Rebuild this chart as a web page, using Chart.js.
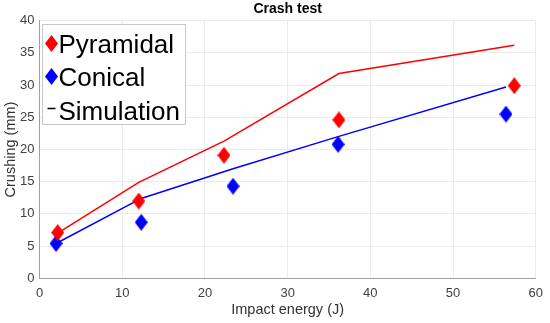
<!DOCTYPE html>
<html><head><meta charset="utf-8">
<script src="https://cdn.jsdelivr.net/npm/chart.js@4"></script>
<style>html,body{margin:0;padding:0;background:#fff}#wrap{width:550px;height:323px}</style>
</head><body><div id="wrap"><canvas id="c" width="550" height="323"></canvas></div>
<script>
// ---- data ----
const titleText = 'Crash test';
const xAxisLabel = 'Impact energy (J)';
const yAxisLabel = 'Crushing (mm)';
const legendLabels = ['Pyramidal', 'Conical', 'Simulation'];

const energyPyramidal = [2.2, 12.0, 22.3, 36.2, 57.4];
const crushPyramidal  = [7.1, 12.0, 19.1, 24.6, 29.9];
const energyConical   = [2.0, 12.3, 23.4, 36.1, 56.4];
const crushConical    = [5.4, 8.7, 14.3, 20.8, 25.5];

const simEnergyPyramidal = [2.2, 12.0, 22.3, 36.2, 57.4];
const simCrushPyramidal  = [7.0, 14.9, 21.3, 31.8, 36.2];
const simEnergyConical   = [2.0, 12.3, 23.4, 36.1, 56.4];
const simCrushConical    = [5.4, 12.4, 17.0, 22.0, 29.7];

const xTicks = [0, 10, 20, 30, 40, 50, 60];
const yTicks = [0, 5, 10, 15, 20, 25, 30, 35, 40];

// ---- helpers ----
const FONT = "'Liberation Sans', Arial, Helvetica, sans-serif";
const RED = '#ff0000', BLUE = '#0000ff';
function pts(xs, ys) { return xs.map((x, i) => ({x: x, y: ys[i]})); }
function makeDiamond(color, w, h) {
  const c = document.createElement('canvas');
  c.width = w; c.height = h;
  const g = c.getContext('2d');
  g.fillStyle = color;
  g.beginPath();
  g.moveTo(w / 2, 0); g.lineTo(w, h / 2); g.lineTo(w / 2, h); g.lineTo(0, h / 2);
  g.closePath(); g.fill();
  return c;
}
const redDiamond = makeDiamond(RED, 13, 17);
const blueDiamond = makeDiamond(BLUE, 13, 17);

const legendPlugin = {
  id: 'insideLegend',
  afterDraw(chart) {
    const ctx = chart.ctx, ca = chart.chartArea;
    const bx = Math.round(ca.left + 2) + 0.5, by = Math.round(ca.top + 3) + 0.5;
    const bw = 143, bh = 100;
    ctx.save();
    ctx.fillStyle = '#ffffff';
    ctx.fillRect(bx, by, bw, bh);
    ctx.strokeStyle = '#c8c8c8';
    ctx.lineWidth = 1;
    ctx.strokeRect(bx, by, bw, bh);
    ctx.font = '26px ' + FONT;
    ctx.fillStyle = '#000';
    ctx.textBaseline = 'alphabetic';
    ctx.textAlign = 'left';
    const textX = bx + 16;
    const baselines = [by + 28, by + 61, by + 95];
    const markers = [redDiamond, blueDiamond, null];
    legendLabels.forEach((lab, i) => {
      const mx = bx + 9, my = baselines[i] - 9;
      if (markers[i]) {
        ctx.drawImage(markers[i], mx - 6.5, my - 8.5);
      } else {
        ctx.strokeStyle = '#000';
        ctx.lineWidth = 1.5;
        ctx.beginPath();
        ctx.moveTo(mx - 4, my - 2); ctx.lineTo(mx + 4, my - 2);
        ctx.stroke();
      }
      ctx.fillText(lab, textX, baselines[i]);
    });
    ctx.restore();
  }
};

new Chart(document.getElementById('c'), {
  type: 'scatter',
  data: {
    datasets: [
      { label: legendLabels[0], data: pts(energyPyramidal, crushPyramidal),
        pointStyle: redDiamond, pointRadius: 8, backgroundColor: RED, borderColor: RED, showLine: false },
      { label: legendLabels[1], data: pts(energyConical, crushConical),
        pointStyle: blueDiamond, pointRadius: 8, backgroundColor: BLUE, borderColor: BLUE, showLine: false },
      { label: legendLabels[2] + ' (pyramidal)', data: pts(simEnergyPyramidal, simCrushPyramidal),
        showLine: true, borderColor: RED, borderWidth: 1.5, pointRadius: 0, fill: false, tension: 0 },
      { label: legendLabels[2] + ' (conical)', data: pts(simEnergyConical, simCrushConical),
        showLine: true, borderColor: BLUE, borderWidth: 1.5, pointRadius: 0, fill: false, tension: 0 }
    ]
  },
  options: {
    responsive: false,
    animation: false,
    devicePixelRatio: 1,
    layout: { padding: { left: 0, right: 13, top: 0, bottom: 0 } },
    plugins: {
      legend: { display: false },
      tooltip: { enabled: false },
      title: {
        display: true, text: titleText, fullSize: false, color: '#000',
        font: { family: FONT, size: 14, weight: 'bold' },
        padding: { top: 0.9, bottom: 3.0 }
      }
    },
    scales: {
      x: {
        type: 'linear', position: 'bottom', min: 0, max: 60,
        afterBuildTicks: s => { s.ticks = xTicks.map(v => ({value: v})); },
        afterFit: s => { s.height = 44.7; },
        ticks: { color: '#404040', font: { family: FONT, size: 13 }, padding: 7 },
        grid: { color: '#ebebeb', drawTicks: false },
        border: { color: '#a0a0a0', width: 1 },
        title: { display: true, text: xAxisLabel, color: '#333333',
                 font: { family: FONT, size: 14.5 }, padding: { top: 0, bottom: 4.3 } }
      },
      y: {
        type: 'linear', position: 'left', min: 0, max: 40,
        afterBuildTicks: s => { s.ticks = yTicks.map(v => ({value: v})); },
        afterFit: s => { s.width = 39.5; },
        ticks: { color: '#404040', font: { family: FONT, size: 13 }, padding: 5 },
        grid: { color: '#ebebeb', drawTicks: false },
        border: { color: '#a0a0a0', width: 1 },
        title: { display: true, text: yAxisLabel, color: '#333333',
                 font: { family: FONT, size: 14.5 }, padding: { top: 2.3, bottom: 0 } }
      }
    }
  },
  plugins: [legendPlugin]
});
</script>
</body></html>
